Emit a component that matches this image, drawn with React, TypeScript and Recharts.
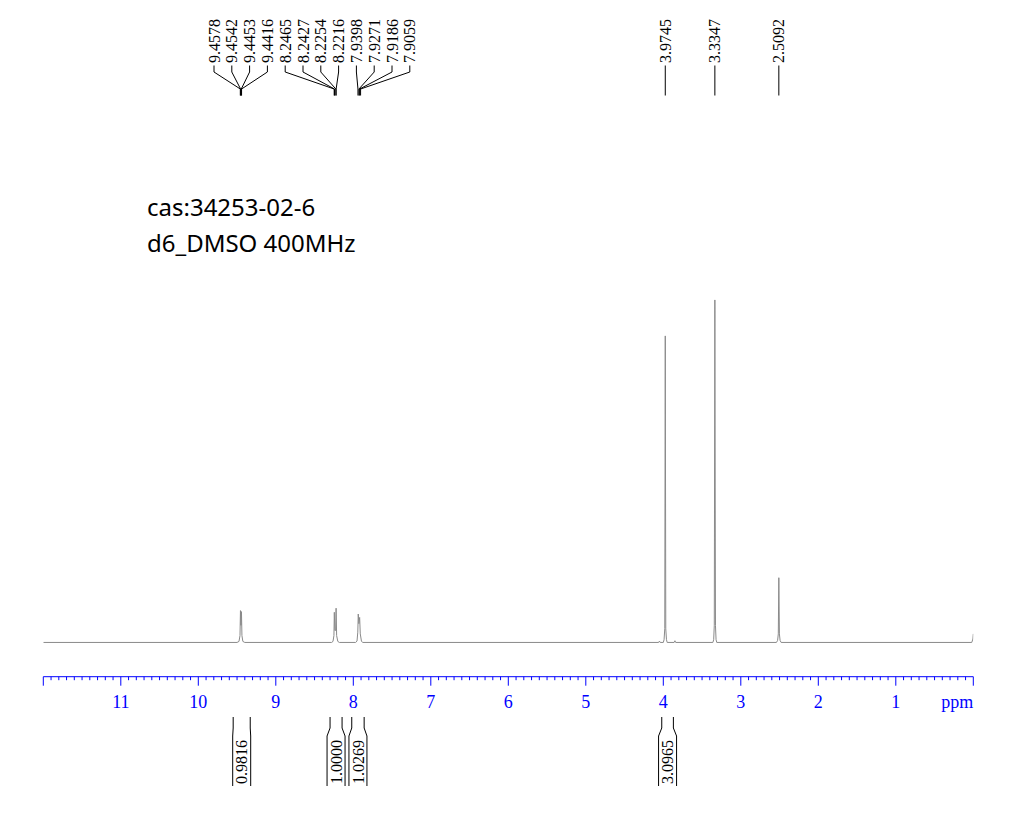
import React from 'react';
import { LineChart, Line, XAxis, YAxis, ReferenceLine, ReferenceDot } from 'recharts';

// ---------- data ----------
// spectrum trace: chemical shift (ppm) and intensity (tallest peak = 100)
const spectrumPpm = [
  12.0, 9.5, 9.475, 9.462, 9.456, 9.45, 9.443, 9.437, 9.425, 9.4,
  8.28, 8.262, 8.25, 8.245, 8.238, 8.228, 8.222, 8.215, 8.2, 8.18,
  7.97, 7.952, 7.942, 7.936, 7.928, 7.918, 7.91, 7.895, 7.88,
  4.06, 4.05, 4.04, 4.0, 3.99, 3.981, 3.9745, 3.968, 3.959, 3.95,
  3.86, 3.85, 3.84, 3.36, 3.35, 3.342, 3.3347, 3.327, 3.319, 3.31,
  2.54, 2.525, 2.516, 2.5092, 2.502, 2.493, 2.48, 0.02, 0.005, 0.0,
];
const spectrumIntensity = [
  0, 0, 0.3, 2, 9.3, 5, 9.0, 2, 0.3, 0,
  0, 0.3, 2, 8.8, 3.5, 3.5, 10.0, 2, 0.3, 0,
  0, 0.4, 3, 8.3, 5.5, 7.3, 2.5, 0.4, 0,
  0, 0.4, 0, 0, 0.8, 4, 89.5, 4, 0.8, 0,
  0, 0.5, 0, 0, 0.8, 5, 100, 5, 0.8, 0,
  0, 0.6, 2.5, 18.9, 2.5, 0.6, 0, 0, 1, 2.5,
];

// peak pick labels
const clusterPeakLabels = [
  '9.4578', '9.4542', '9.4453', '9.4416',
  '8.2465', '8.2427', '8.2254', '8.2216',
  '7.9398', '7.9271', '7.9186', '7.9059',
];
const singlePeakLabels = ['3.9745', '3.3347', '2.5092'];

// integrals
const integralValues = ['0.9816', '1.0000', '1.0269', '3.0965'];
const integralFrom = [9.55, 8.30, 8.02, 4.02];
const integralTo = [9.33, 8.145, 7.86, 3.87];

// axis
const majorTickValues = [1, 2, 3, 4, 5, 6, 7, 8, 9, 10, 11];
const unitLabel = 'ppm';
const titleLines = ['cas:34253-02-6', 'd6_DMSO 400MHz'];

// ---------- layout ----------
const W = 1033;
const H = 826;
const X_LEFT = 43.3; // 12 ppm
const X_RIGHT = 973.3; // 0 ppm
const PPM_MAX = 12;
const AXIS_Y = 676.7;
const Y_MIN = -10;
const Y_MAX = 160;
const PX_PER_UNIT = 3.425;
const PLOT_TOP = AXIS_Y - (Y_MAX - Y_MIN) * PX_PER_UNIT;
const XAXIS_H = 30;

const pxToPpm = (px: number) => (PPM_MAX * (X_RIGHT - px)) / (X_RIGHT - X_LEFT);
const pxToUnit = (py: number) => Y_MIN + (AXIS_Y - py) / PX_PER_UNIT;

const BLUE = '#0000ff';
const SERIF = '"Liberation Serif", "Times New Roman", serif';

const data = spectrumPpm.map((ppm, i) => ({ ppm, intensity: spectrumIntensity[i] }));

const minorTicks: number[] = [];
for (let i = 0; i <= 120; i++) minorTicks.push(i / 10);

const AxisTick = (props: any) => {
  const { x, y, payload } = props;
  const v = payload.value as number;
  const r = Math.round(v);
  const isMajor = Math.abs(v - r) < 1e-6;
  const len = isMajor ? 9 : 3.5;
  let label: React.ReactNode = null;
  if (isMajor && r === 0) {
    label = (
      <text x={x} y={y + 31.6} textAnchor="end" fill={BLUE} fontSize={18} fontFamily={SERIF}>
        {unitLabel}
      </text>
    );
  } else if (isMajor && majorTickValues.includes(r)) {
    label = (
      <text x={x} y={y + 31.6} textAnchor="middle" fill={BLUE} fontSize={18} fontFamily={SERIF}>
        {String(r)}
      </text>
    );
  }
  return (
    <g>
      <line x1={x} y1={y} x2={x} y2={y + len} stroke={BLUE} strokeWidth={1} />
      {label}
    </g>
  );
};

const rotatedText = (txt: string, size: number) => (props: any) => {
  const { cx, cy } = props;
  return (
    <text
      x={cx}
      y={cy}
      transform={`rotate(-90 ${cx} ${cy})`}
      dy="0.35em"
      textAnchor="start"
      fontSize={size}
      fontFamily={SERIF}
      fill="#000"
    >
      {txt}
    </text>
  );
};

// build leader-line segments for peak labels
type Seg = { x1: number; y1: number; x2: number; y2: number };
const peakLabelItems: { text: string; slot: number; peak: number }[] = [];
clusterPeakLabels.forEach((t, i) => {
  peakLabelItems.push({ text: t, slot: pxToPpm(214 + i * 17.8), peak: parseFloat(t) });
});
singlePeakLabels.forEach((t) => {
  peakLabelItems.push({ text: t, slot: parseFloat(t), peak: parseFloat(t) });
});

const leaderSegs: Seg[] = [];
peakLabelItems.forEach((it) => {
  leaderSegs.push({ x1: it.slot, y1: pxToUnit(65.5), x2: it.slot, y2: pxToUnit(72) });
  leaderSegs.push({ x1: it.slot, y1: pxToUnit(72), x2: it.peak, y2: pxToUnit(89) });
  leaderSegs.push({ x1: it.peak, y1: pxToUnit(89), x2: it.peak, y2: pxToUnit(95.5) });
});

const integralSegs: Seg[] = [];
const integralTextPos: { text: string; x: number }[] = [];
integralValues.forEach((t, i) => {
  const a = integralFrom[i];
  const b = integralTo[i];
  const mid = (a + b) / 2;
  const half = pxToPpm(X_RIGHT - 9); // 9 px expressed in ppm
  const fa = Math.max(a, mid + half);
  const fb = Math.min(b, mid - half);
  [[a, fa], [b, fb]].forEach(([top, bot]) => {
    integralSegs.push({ x1: top, y1: pxToUnit(717), x2: top, y2: pxToUnit(728) });
    integralSegs.push({ x1: top, y1: pxToUnit(728), x2: bot, y2: pxToUnit(736) });
    integralSegs.push({ x1: bot, y1: pxToUnit(736), x2: bot, y2: pxToUnit(786) });
  });
  integralTextPos.push({ text: t, x: mid });
});

export default function App() {
  return (
    <div style={{ position: 'absolute', left: 0, top: 0, width: W, height: H, background: '#fff' }}>
      <LineChart
        width={W}
        height={H}
        data={data}
        margin={{ top: PLOT_TOP, right: W - X_RIGHT, bottom: H - AXIS_Y - XAXIS_H, left: X_LEFT }}
      >
        <XAxis
          dataKey="ppm"
          type="number"
          domain={[0, PPM_MAX]}
          reversed
          allowDataOverflow
          ticks={minorTicks}
          interval={0}
          height={XAXIS_H}
          tickLine={false}
          tickSize={0}
          tickMargin={0}
          axisLine={{ stroke: BLUE, strokeWidth: 1 }}
          tick={<AxisTick />}
        />
        <YAxis type="number" domain={[Y_MIN, Y_MAX]} hide allowDataOverflow />
        <Line
          type="linear"
          dataKey="intensity"
          stroke="#8a8a8a"
          strokeWidth={1}
          dot={false}
          isAnimationActive={false}
        />
        {leaderSegs.map((s, i) => (
          <ReferenceLine
            key={'l' + i}
            segment={[{ x: s.x1, y: s.y1 }, { x: s.x2, y: s.y2 }]}
            stroke="#000"
            strokeWidth={1}
            ifOverflow="visible"
          />
        ))}
        {peakLabelItems.map((it, i) => (
          <ReferenceDot
            key={'pt' + i}
            x={it.slot}
            y={pxToUnit(63)}
            r={0}
            ifOverflow="visible"
            shape={rotatedText(it.text, 16)}
          />
        ))}
        {integralSegs.map((s, i) => (
          <ReferenceLine
            key={'i' + i}
            segment={[{ x: s.x1, y: s.y1 }, { x: s.x2, y: s.y2 }]}
            stroke="#000"
            strokeWidth={1}
            ifOverflow="visible"
          />
        ))}
        {integralTextPos.map((it, i) => (
          <ReferenceDot
            key={'it' + i}
            x={it.x}
            y={pxToUnit(784)}
            r={0}
            ifOverflow="visible"
            shape={rotatedText(it.text, 16)}
          />
        ))}
      </LineChart>
      {titleLines.map((t, i) => (
        <div
          key={t}
          style={{
            position: 'absolute',
            left: 147,
            top: 193.7 + i * 36,
            fontFamily: '"Noto Sans", "Open Sans", sans-serif',
            fontSize: 24,
            lineHeight: '26px',
            color: '#000',
            whiteSpace: 'nowrap',
          }}
        >
          {t}
        </div>
      ))}
    </div>
  );
}
